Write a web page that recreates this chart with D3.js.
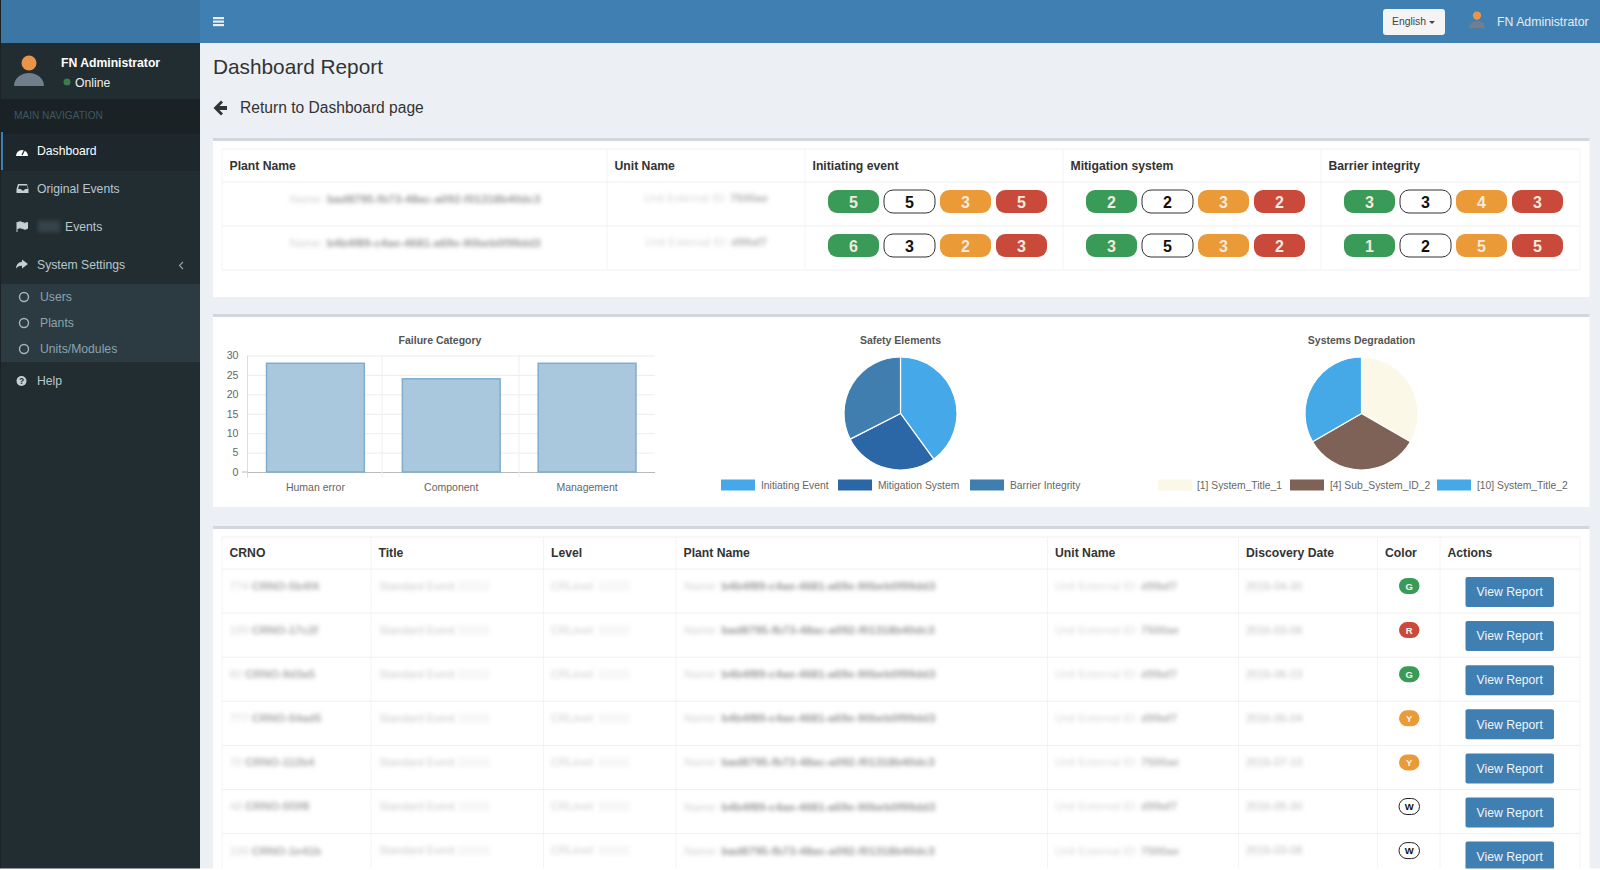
<!DOCTYPE html>
<html>
<head>
<meta charset="utf-8">
<title>Dashboard Report</title>
<script src="https://cdn.jsdelivr.net/npm/d3@7"></script>
<style>
html, body { margin: 0; padding: 0; background: #ecf0f5; overflow: hidden; }
svg { display: block; font-family: "Liberation Sans", Arial, sans-serif; }
.blur { filter: url(#soft); }
</style>
</head>
<body>
<svg id="page" width="1600" height="870"></svg>
<script>
// sidebar
var navItems = ["Dashboard", "Original Events", "Events", "System Settings"];
var subItems = ["Users", "Plants", "Units/Modules"];

// summary table
var summaryHeads = ["Plant Name", "Unit Name", "Initiating event", "Mitigation system", "Barrier integrity"];
var summaryPlants = ["bad8795-fb73-48ac-a092-f01318b40dc3", "b4b4f89-c4ae-4681-a69e-90beb0f99dd3"];
var summaryUnits = ["7500ae", "d99af7"];
var pillRow1 = [5, 5, 3, 5, 2, 2, 3, 2, 3, 3, 4, 3];
var pillRow2 = [6, 3, 2, 3, 3, 5, 3, 2, 1, 2, 5, 5];
var pillColors = ["#3a9a58", "#ffffff", "#ea9a36", "#c94a3b"];

// charts
var barCategories = ["Human error", "Component", "Management"];
var barValues = [28, 24, 28];
var safetyLabels = ["Initiating Event", "Mitigation System", "Barrier Integrity"];
var safetyValues = [32, 22, 26];
var safetyColors = ["#45a8e8", "#2b67a6", "#3f7eae"];
var degradationLabels = ["[1] System_Title_1", "[4] Sub_System_ID_2", "[10] System_Title_2"];
var degradationValues = [1, 1, 1];
var degradationColors = ["#fbf8e8", "#7f6257", "#45a9e8"];

// report table
var reportHeads = ["CRNO", "Title", "Level", "Plant Name", "Unit Name", "Discovery Date", "Color", "Actions"];
var reportNums = ["774", "199", "80", "777", "70", "48", "199"];
var reportCrno = ["CRNO-5b4f4", "CRNO-17c2f", "CRNO-9d3a5", "CRNO-54ad5", "CRNO-112b4", "CRNO-5f3f8", "CRNO-1e41b"];
var reportPlants = ["b4b4f89-c4ae-4681-a69e-90beb0f99dd3", "bad8795-fb73-48ac-a092-f01318b40dc3", "b4b4f89-c4ae-4681-a69e-90beb0f99dd3", "b4b4f89-c4ae-4681-a69e-90beb0f99dd3", "bad8795-fb73-48ac-a092-f01318b40dc3", "b4b4f89-c4ae-4681-a69e-90beb0f99dd3", "bad8795-fb73-48ac-a092-f01318b40dc3"];
var reportUnits = ["d99af7", "7500ae", "d99af7", "d99af7", "7500ae", "d99af7", "7500ae"];
var reportDates = ["2016-04-30", "2016-03-06", "2016-06-23", "2016-06-04", "2016-07-10", "2016-05-30", "2016-03-08"];
var reportColors = ["G", "R", "G", "Y", "Y", "W", "W"];
var badgeFill = {G: "#3a9a58", R: "#c94a3b", Y: "#ea9a36", W: "#ffffff"};

var svg = d3.select("#page");
svg.append("defs").append("filter").attr("id", "soft")
    .attr("x", "-5%").attr("y", "-80%").attr("width", "110%").attr("height", "260%")
  .append("feGaussianBlur").attr("stdDeviation", 1.9);

function text(parent, x, y, str, size, color, weight, anchor) {
  return parent.append("text")
      .attr("x", x).attr("y", y).attr("dy", ".35em")
      .attr("font-size", size).attr("fill", color)
      .attr("font-weight", weight || "normal")
      .attr("text-anchor", anchor || "start")
      .text(str);
}

// blurred text, a pale lead word followed by a darker bold part
function blurred(parent, x, y, lead, rest, size, pale, dark, anchor) {
  var t = text(parent, x, y, null, size, pale, "normal", anchor).attr("class", "blur");
  t.append("tspan").text(lead + " ");
  t.append("tspan").attr("fill", dark).attr("font-weight", "bold").text(rest);
  return t;
}

function avatar(parent, cx, cy, k) {
  parent.append("circle").attr("cx", cx).attr("cy", cy - 10 * k).attr("r", 7.5 * k).attr("fill", "#e8954a");
  parent.append("path")
      .attr("d", "M" + (cx - 15 * k) + "," + (cy + 13 * k) + " a" + 15 * k + "," + 13 * k + " 0 0 1 " + 30 * k + ",0 z")
      .attr("fill", "#6f7f8c");
}

// ---- header and sidebar
svg.append("rect").attr("width", 1600).attr("height", 43).attr("fill", "#3f7fb1");
svg.append("rect").attr("width", 200).attr("height", 43).attr("fill", "#3c76a4");
svg.append("rect").attr("y", 43).attr("width", 200).attr("height", 827).attr("fill", "#222d32");
svg.append("rect").attr("width", 1).attr("height", 870).attr("fill", "#1a2226");

[17, 20.5, 24].forEach(function(y) {
  svg.append("rect").attr("x", 213).attr("y", y).attr("width", 11).attr("height", 2.2).attr("fill", "#e8eef4");
});

svg.append("rect").attr("x", 1383).attr("y", 9).attr("width", 62).attr("height", 26).attr("rx", 3).attr("fill", "#f4f4f4");
text(svg, 1392, 21.5, "English", 10.4, "#444");
svg.append("path").attr("d", "M1429,21 h6 l-3,3 z").attr("fill", "#444");
avatar(svg, 1477, 21, 0.55);
text(svg, 1497, 21.5, "FN Administrator", 12.3, "#e6edf3");

avatar(svg, 29, 73, 1);
text(svg, 61, 62.5, "FN Administrator", 12.2, "#ffffff", "bold");
svg.append("circle").attr("cx", 67).attr("cy", 82).attr("r", 3.5).attr("fill", "#3a7d4a");
text(svg, 75, 82.5, "Online", 12.2, "#f0f0f0");

svg.append("rect").attr("x", 1).attr("y", 99).attr("width", 199).attr("height", 35).attr("fill", "#1a2226");
text(svg, 14, 115, "MAIN NAVIGATION", 10.1, "#42575f");

svg.append("rect").attr("x", 1).attr("y", 134).attr("width", 199).attr("height", 37).attr("fill", "#1e282c");
svg.append("rect").attr("x", 1).attr("y", 132).attr("width", 2).attr("height", 38).attr("fill", "#3c7fb0");

var navY = d3.scalePoint().domain(navItems).range([151, 265]);
navItems.forEach(function(d, i) {
  text(svg, d == "Events" ? 65 : 37, navY(d), d, 12.2, i == 0 ? "#ffffff" : "#b8c7ce");
});
// nav icons
svg.append("path").attr("d", "M16,156 a6,6 0 1 1 12,0 z").attr("fill", "#ffffff");
svg.append("path").attr("d", "M22,155 l2.5,-5").attr("stroke", "#1e282c").attr("stroke-width", 1.3);
svg.append("path").attr("d", "M18,184 h9 l1.5,5 v4 h-12 v-4 z M19,185.5 l-.8,3.5 h2.8 l1,1.5 h2 l1,-1.5 h2.8 l-.8,-3.5 z")
    .attr("fill", "#c4d0d6").attr("fill-rule", "evenodd");
svg.append("path").attr("d", "M17,222 v10 M17.5,222.5 q3,-1.5 5,0 t5,0 v6 q-2.500,1.500 -5,0 t-5,0 z").attr("fill", "#c4d0d6").attr("stroke", "#c4d0d6").attr("stroke-width", 1);
svg.append("path").attr("d", "M22,259.500 l6,4.500 l-6,4.500 v-2.700 q-4,-.3 -6,3 q0,-6 6,-7 z").attr("fill", "#c4d0d6");
svg.append("rect").attr("class", "blur").attr("x", 38).attr("y", 221).attr("width", 22).attr("height", 11).attr("fill", "#36444b");
svg.append("path").attr("d", "M183,262 l-3.5,3.5 l3.5,3.5").attr("fill", "none").attr("stroke", "#8aa4af").attr("stroke-width", 1.2);

svg.append("rect").attr("x", 1).attr("y", 284).attr("width", 199).attr("height", 78).attr("fill", "#2c3b41");
var subY = d3.scalePoint().domain(subItems).range([297, 349]);
subItems.forEach(function(d) {
  svg.append("circle").attr("cx", 24).attr("cy", subY(d)).attr("r", 4.5).attr("fill", "none").attr("stroke", "#a4b6be").attr("stroke-width", 1.4);
  text(svg, 40, subY(d), d, 12.2, "#8aa4af");
});
svg.append("circle").attr("cx", 21.5).attr("cy", 381).attr("r", 5).attr("fill", "#c4d0d6");
text(svg, 21.5, 381, "?", 8.5, "#222d32", "bold", "middle");
text(svg, 37, 381, "Help", 12.2, "#b8c7ce");

// ---- page title
text(svg, 213, 67, "Dashboard Report", 20.8, "#333");
svg.append("path").attr("d", "M227,106 h-7.5 l3.5,-3.5 l-2,-2 l-7.5,7.5 l7.5,7.5 l2,-2 l-3.5,-3.5 h7.5 z").attr("fill", "#333");
text(svg, 240, 108, "Return to Dashboard page", 15.6, "#333");

// ---- boxes
function box(y, h) {
  svg.append("rect").attr("x", 213).attr("y", y).attr("width", 1376.5).attr("height", h).attr("fill", "#fff");
  svg.append("rect").attr("x", 213).attr("y", y - 1).attr("width", 1376.5).attr("height", 3).attr("fill", "#d2d6de");
}
box(139, 158);
box(315, 192);
box(527, 343);

function hline(x1, x2, y) {
  svg.append("line").attr("x1", x1).attr("x2", x2).attr("y1", y).attr("y2", y).attr("stroke", "#f0f0f0");
}
function vline(x, y1, y2) {
  svg.append("line").attr("x1", x).attr("x2", x).attr("y1", y1).attr("y2", y2).attr("stroke", "#f4f4f4");
}

// ---- summary table
var summaryCols = [222, 607, 805, 1063, 1321, 1580];
summaryCols.forEach(function(x) { vline(x, 149, 270); });
[149, 182, 226, 270].forEach(function(y) { hline(222, 1580, y); });
summaryHeads.forEach(function(d, i) {
  text(svg, summaryCols[i] + 7.5, 165.5, d, 12.2, "#333", "bold");
});

[pillRow1, pillRow2].forEach(function(row, r) {
  var y = r == 0 ? 190 : 234;
  blurred(svg, 415, y + 8.5, "Name:", summaryPlants[r], 11.6, "#d0d0d0", "#9a9a9a", "middle");
  blurred(svg, 706, y + 8.5, "Unit External ID:", summaryUnits[r], 11.4, "#d6d6d6", "#b4b4b4", "middle");
  svg.selectAll(".pill" + r)
      .data(row)
    .enter().append("g")
      .attr("transform", function(d, i) {
        var group = Math.floor(i / 4);
        return "translate(" + (828 + group * 258 + (i % 4) * 56) + "," + y + ")";
      })
      .each(function(d, i) {
        var g = d3.select(this), c = pillColors[i % 4];
        g.append("rect").attr("width", 51).attr("height", 23).attr("rx", 9)
            .attr("fill", c).attr("stroke", c == "#ffffff" ? "#333" : "none");
        text(g, 25.5, 12, d, 16, c == "#ffffff" ? "#111" : "#f3e9dc", "bold", "middle");
      });
});

// ---- bar chart
var chart = svg.append("g");
text(chart, 440, 340, "Failure Category", 10.5, "#555", "bold", "middle");

var x = d3.scaleBand().domain(barCategories).range([247.5, 655]).paddingInner(0.28).paddingOuter(0.14);
var y = d3.scaleLinear().domain([0, 30]).range([472, 355.5]);

var gridY = chart.append("g").attr("transform", "translate(247.5,0)")
    .call(d3.axisLeft(y).tickValues([0, 5, 10, 15, 20, 25, 30]).tickSize(-407.5).tickPadding(9));
gridY.select(".domain").remove();
gridY.selectAll("line").attr("stroke", "#ececec");
gridY.selectAll("text").attr("font-family", "inherit").attr("font-size", 10.6).attr("fill", "#666");
gridY.selectAll("line").filter(function(d) { return d == 0; }).attr("stroke", "#bbb");

[247.5, 382, 519].forEach(function(vx, i) {
  chart.append("line").attr("x1", vx).attr("x2", vx).attr("y1", 355.5).attr("y2", 477.5)
      .attr("stroke", i == 0 ? "#ddd" : "#eeeeee");
});
chart.append("line").attr("x1", 242).attr("x2", 247.5).attr("y1", 472).attr("y2", 472).attr("stroke", "#bbb");

chart.selectAll(".bar")
    .data(barValues)
  .enter().append("rect")
    .attr("class", "bar")
    .attr("x", function(d, i) { return x(barCategories[i]); })
    .attr("y", y)
    .attr("width", x.bandwidth())
    .attr("height", function(d) { return y(0) - y(d); })
    .attr("fill", "#a9c8de")
    .attr("stroke", "#7dadcf")
    .attr("stroke-width", 1.5);

barCategories.forEach(function(d) {
  text(chart, x(d) + x.bandwidth() / 2, 487, d, 10.5, "#666", "normal", "middle");
});

// ---- pie charts
var pie = d3.pie().sort(null);
var arc = d3.arc().innerRadius(0);

function drawPie(title, values, colors, labels, cx, r, swatchX, textX) {
  var g = svg.append("g");
  text(g, cx, 340, title, 10.5, "#555", "bold", "middle");
  var a = g.append("g").attr("transform", "translate(" + cx + ",413.5)");
  a.selectAll("path")
      .data(pie(values))
    .enter().append("path")
      .attr("d", arc.outerRadius(r))
      .attr("fill", function(d, i) { return colors[i]; })
      .attr("stroke", "#fff")
      .attr("stroke-width", 1.2);
  labels.forEach(function(d, i) {
    g.append("rect").attr("x", swatchX[i]).attr("y", 479.5).attr("width", 34).attr("height", 11).attr("fill", colors[i]);
    text(g, textX[i], 485, d, 10.3, "#666");
  });
}
drawPie("Safety Elements", safetyValues, safetyColors, safetyLabels, 900.5, 56.5, [721, 838, 970], [761, 878, 1010]);
drawPie("Systems Degradation", degradationValues, degradationColors, degradationLabels, 1361.5, 56.5, [1158, 1290, 1437], [1197, 1330, 1477]);

// ---- report table
var reportCols = [222, 371, 543.5, 676, 1047.5, 1238.5, 1377.5, 1440, 1580];
var rowY = d3.scaleLinear().domain([0, 7]).range([569, 877.7]);
reportCols.forEach(function(c) { vline(c, 537, 868); });
hline(222, 1580, 537);
d3.range(7).forEach(function(i) { hline(222, 1580, rowY(i)); });
reportHeads.forEach(function(d, i) {
  text(svg, reportCols[i] + 7.5, 553, d, 12.2, "#333", "bold");
});

reportCrno.forEach(function(d, i) {
  var ty = rowY(i) + 17;
  blurred(svg, 229.5, ty, reportNums[i], d, 11.4, "#d0d0d0", "#a8a8a8");
  text(svg, 379, ty, "Standard Event", 11, "#c8c8c8").attr("class", "blur");
  svg.append("rect").attr("class", "blur").attr("x", 458).attr("y", ty - 5).attr("width", 32).attr("height", 10).attr("fill", "#f7f7f7");
  text(svg, 551, ty, "CRLevel", 11, "#cccccc").attr("class", "blur");
  svg.append("rect").attr("class", "blur").attr("x", 598).attr("y", ty - 5).attr("width", 32).attr("height", 10).attr("fill", "#f7f7f7");
  blurred(svg, 684, ty, "Name:", reportPlants[i], 11.6, "#d0d0d0", "#9a9a9a");
  blurred(svg, 1055, ty, "Unit External ID:", reportUnits[i], 11.4, "#d6d6d6", "#b4b4b4");
  text(svg, 1246, ty, reportDates[i], 11, "#bcbcbc").attr("class", "blur");

  var c = reportColors[i];
  svg.append("rect").attr("x", 1399).attr("y", ty - 8).attr("width", 20.5).attr("height", 16).attr("rx", 8)
      .attr("fill", badgeFill[c]).attr("stroke", c == "W" ? "#222" : "none");
  text(svg, 1409.2, ty + 0.2, c, 9.5, c == "W" ? "#111" : "#f4f4f4", "bold", "middle");

  svg.append("rect").attr("x", 1465.5).attr("y", rowY(i) + 8).attr("width", 88.5).attr("height", 30).attr("rx", 2).attr("fill", "#3f7fb1");
  text(svg, 1509.7, rowY(i) + 23, "View Report", 12.2, "#f0f5f9", "normal", "middle");
});

// pale strip along the bottom edge of the screenshot
svg.append("rect").attr("y", 868.5).attr("width", 1600).attr("height", 1.5).attr("fill", "#ffffff");
</script>
</body>
</html>
